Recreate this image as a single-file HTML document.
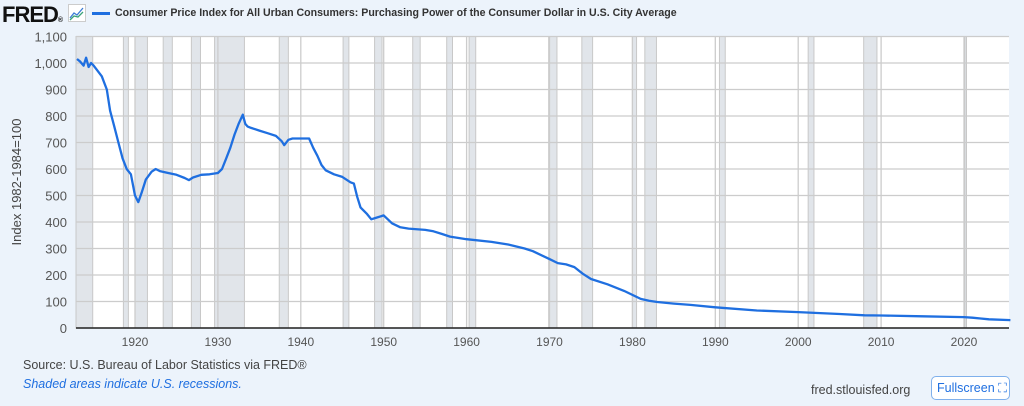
<!DOCTYPE html>
<html><head><meta charset="utf-8"><style>
body{margin:0;width:1024px;height:406px;background:#ecf3fb;font-family:"Liberation Sans",sans-serif;overflow:hidden;position:relative}
.t{position:absolute;white-space:nowrap}
</style></head><body>
<div class="t" style="left:2px;top:2px;font-size:22px;font-weight:900;color:#111;letter-spacing:-1px">FRED<span style="font-size:7px">®</span></div>
<svg class="t" style="left:68px;top:4px" width="18" height="18"><rect x="0.5" y="0.5" width="17" height="17" fill="#fff" stroke="#ccc"/><polyline points="2,14 6,9 9,11 15,4" fill="none" stroke="#3a7bd5" stroke-width="1.3"/><polyline points="2,16 6,12 10,13 15,8" fill="none" stroke="#3aa37a" stroke-width="1.3"/></svg>
<div class="t" style="left:92px;top:7px;font-size:10.6px;font-weight:bold;color:#333"><span style="display:inline-block;width:18px;height:3px;background:#1f6fe0;vertical-align:middle;margin-right:5px"></span>Consumer Price Index for All Urban Consumers: Purchasing Power of the Consumer Dollar in U.S. City Average</div>
<svg id="c" class="t" style="left:0;top:0" width="1024" height="406"></svg>
<div class="t" style="left:23px;top:358px;font-size:12.5px;color:#444">Source: U.S. Bureau of Labor Statistics via FRED®</div>
<div class="t" style="left:23px;top:377px;font-size:12.5px;font-style:italic;color:#1f6fe0">Shaded areas indicate U.S. recessions.</div>
<div class="t" style="left:811px;top:383px;font-size:12.5px;color:#444">fred.stlouisfed.org</div>
<div class="t" style="left:931px;top:376px;width:79px;height:24px;box-sizing:border-box;border:1px solid #7fb0ec;border-radius:5px;background:#fff;color:#1f6fe0;font-size:12.5px;line-height:22px;padding-left:5px">Fullscreen ⛶</div>
<script>
const years=[1913,1913.4,1913.8,1914.1,1914.4,1914.7,1915,1916,1916.6,1917,1917.5,1918,1918.5,1919,1919.5,1920,1920.4,1920.8,1921.3,1922,1922.5,1923,1924,1925,1926,1926.5,1927,1928,1929,1930,1930.5,1931,1931.5,1932,1932.5,1933,1933.3,1933.6,1934,1935,1936,1937,1937.7,1938,1938.5,1939,1940,1941,1941.5,1942,1942.5,1943,1944,1945,1946,1946.4,1946.8,1947.2,1948,1948.5,1949,1950,1950.5,1951,1952,1953,1955,1956,1957,1958,1960,1963,1965,1967,1968,1970,1971,1972,1973,1974,1975,1977,1979,1980,1981,1982,1983,1985,1987,1990,1995,2000,2005,2008,2010,2015,2020,2021,2022,2023,2025.6];
const values=[1015,1005,990,1020,985,1000,990,950,900,820,760,700,640,600,580,500,475,510,560,590,600,592,585,578,566,558,568,578,580,585,600,640,680,730,770,805,770,760,755,745,735,725,705,690,710,715,715,715,680,650,615,595,580,570,550,545,495,455,430,410,415,425,410,395,380,375,370,365,355,345,335,325,315,300,290,260,245,240,230,205,185,165,140,125,110,103,98,92,87,78,66,60,53,48,47,44,41,39,36,33,30];
const recStart=[1912.5,1918.6,1920.0,1923.4,1926.8,1929.6,1937.4,1945.1,1948.9,1953.5,1957.6,1960.3,1969.9,1973.9,1980.0,1981.5,1990.5,2001.2,2007.9,2020.1];
const recEnd=[1914.9,1919.2,1921.5,1924.5,1927.9,1933.2,1938.5,1945.8,1949.8,1954.4,1958.3,1961.1,1970.9,1975.2,1980.5,1982.9,1991.2,2001.9,2009.5,2020.3];
const xTicks=[1920,1930,1940,1950,1960,1970,1980,1990,2000,2010,2020];
const yTicks=[0,100,200,300,400,500,600,700,800,900,1000,1100];
const L=76,R=1009,T=36.5,B=328;
const x=y=>964+(y-2020)*8.29;
const yy=v=>B-v*(B-T)/1100;
const s=document.getElementById('c');const NS='http://www.w3.org/2000/svg';
function mk(t,a){const e=document.createElementNS(NS,t);for(const k in a)e.setAttribute(k,a[k]);s.appendChild(e);return e;}
let e=mk('rect',{x:L,y:T,width:R-L,height:B-T,fill:'#fff'});


recStart.forEach((a,i)=>{const x0=Math.max(L,x(a)),x1=x(recEnd[i]);
const r=mk('rect',{x:x0,y:T,width:x1-x0,height:B-T,fill:'#e1e5ea',stroke:'#c8c8c8','stroke-width':1});

});
yTicks.forEach(v=>{const l=mk('line',{x1:L,x2:R,y1:yy(v),y2:yy(v),stroke:'#ccc','stroke-width':1.3});


const t=mk('text',{x:L-9,y:yy(v)+5,'text-anchor':'end','font-size':13,fill:'#555'});t.textContent=v.toLocaleString('en-US');

});
xTicks.forEach(v=>{const l=mk('line',{x1:x(v),x2:x(v),y1:T,y2:B,stroke:'#ccc','stroke-width':1.3});


const t=mk('text',{x:x(v),y:346,'text-anchor':'middle','font-size':12,fill:'#555'});t.textContent=v;

});
e=mk('line',{x1:L,x2:R,y1:B,y2:B,stroke:'#222','stroke-width':1.5});


e=mk('polyline',{points:years.map((y,i)=>x(y).toFixed(1)+','+yy(values[i]).toFixed(1)).join(' '),fill:'none',stroke:'#1f6fe0','stroke-width':2.3,'stroke-linejoin':'round'});


e=mk('text',{x:0,y:0,transform:'translate(21,182) rotate(-90)','text-anchor':'middle','font-size':13,fill:'#444'});e.textContent='Index 1982-1984=100';


</script>
</body></html>
